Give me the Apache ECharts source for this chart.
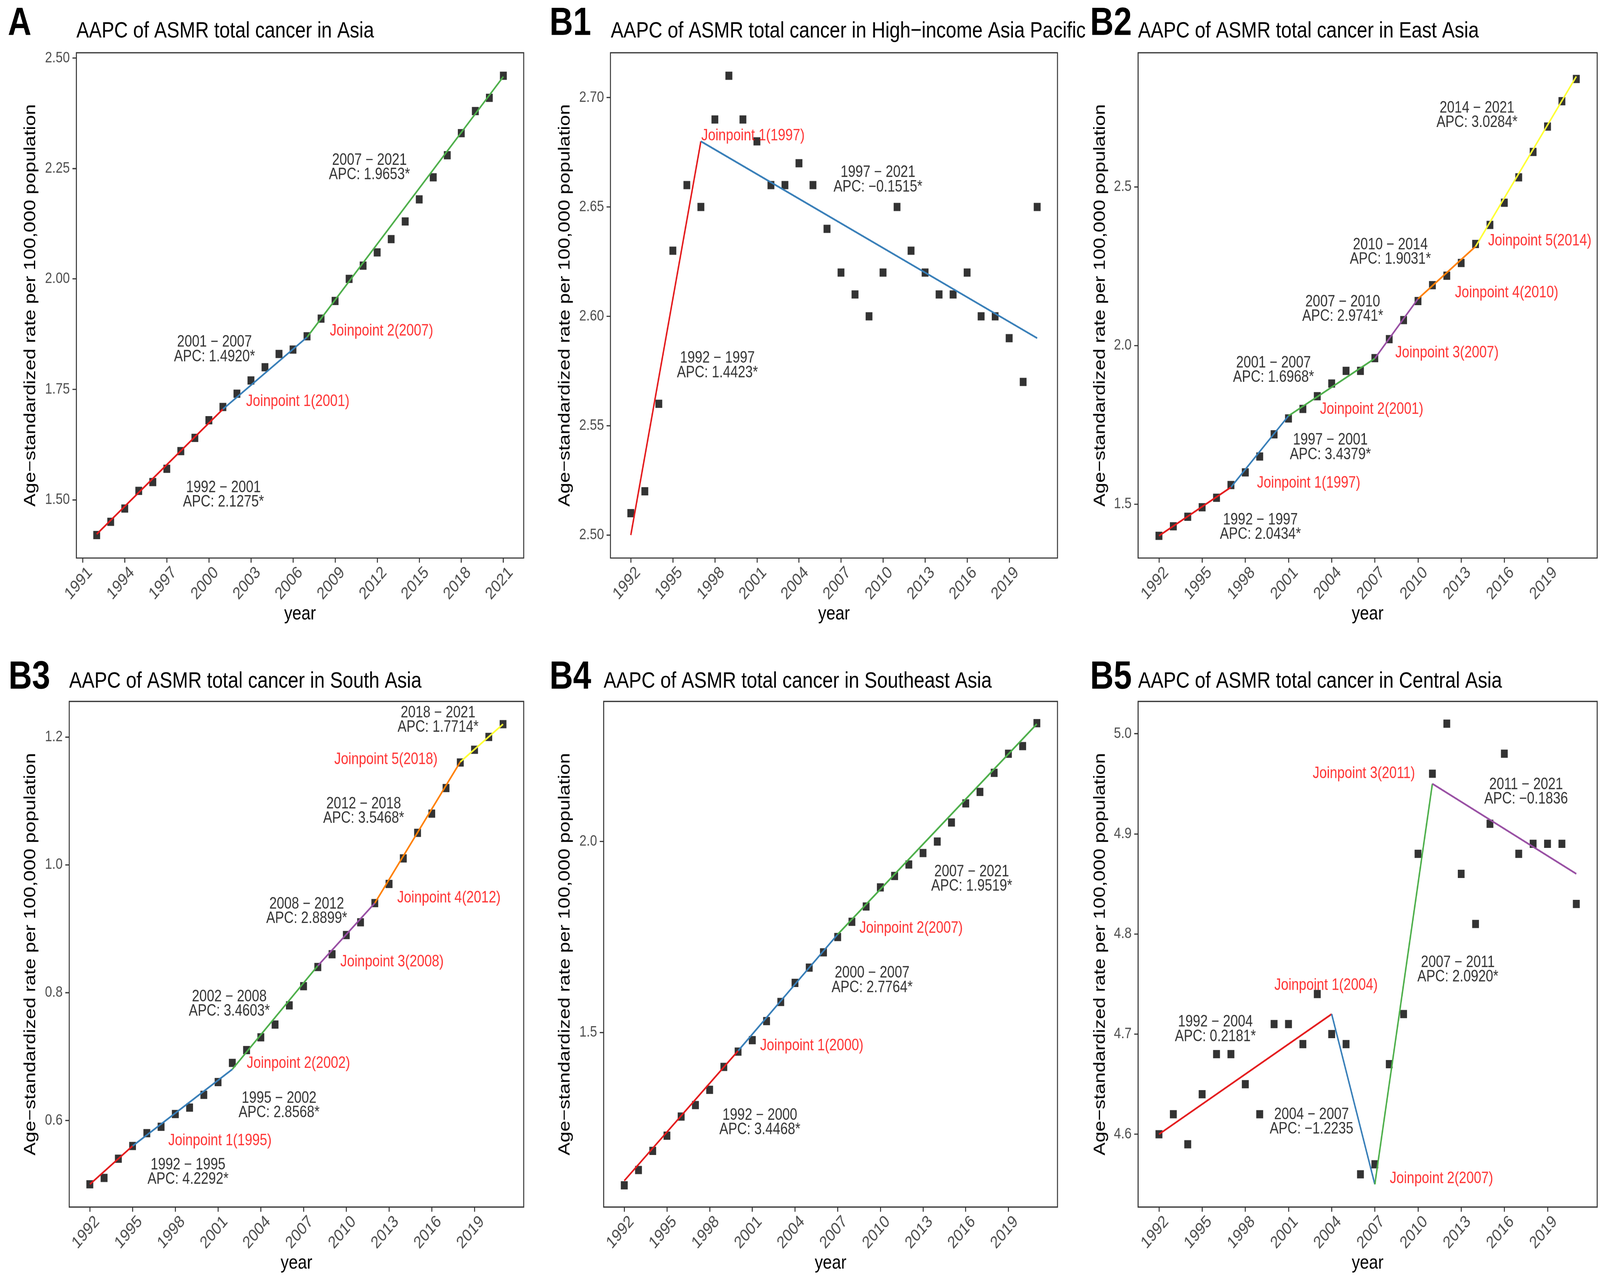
<!DOCTYPE html>
<html>
<head>
<meta charset="utf-8">
<script src="https://cdn.jsdelivr.net/npm/echarts@6/dist/echarts.min.js"></script>
<style>
html,body{margin:0;padding:0;background:#ffffff;overflow:hidden;}
#chart{position:absolute;left:0;top:0;width:4904px;height:3281px;transform-origin:0 0;}
</style>
</head>
<body>
<div id="chart"></div>
<script>
// ---------------- DATA ----------------
const years = [1992,1993,1994,1995,1996,1997,1998,1999,2000,2001,2002,2003,2004,2005,2006,2007,2008,2009,2010,2011,2012,2013,2014,2015,2016,2017,2018,2019,2020,2021];

// A: Asia
const asiaRates = [1.42,1.45,1.48,1.52,1.54,1.57,1.61,1.64,1.68,1.71,1.74,1.77,1.80,1.83,1.84,1.87,1.91,1.95,2.00,2.03,2.06,2.09,2.13,2.18,2.23,2.28,2.33,2.38,2.41,2.46];
const asiaJoinYears = [1992,2001,2007,2021];
const asiaFitted = [1.422,1.705,1.868,2.458];

// B1: High-income Asia Pacific
const hiapRates = [2.51,2.52,2.56,2.63,2.66,2.65,2.69,2.71,2.69,2.68,2.66,2.66,2.67,2.66,2.64,2.62,2.61,2.60,2.62,2.65,2.63,2.62,2.61,2.61,2.62,2.60,2.60,2.59,2.57,2.65];
const hiapJoinYears = [1992,1997,2021];
const hiapFitted = [2.500,2.680,2.590];

// B2: East Asia
const eastRates = [1.40,1.43,1.46,1.49,1.52,1.56,1.60,1.65,1.72,1.77,1.80,1.84,1.88,1.92,1.92,1.96,2.02,2.08,2.14,2.19,2.22,2.26,2.32,2.38,2.45,2.53,2.61,2.69,2.77,2.84];
const eastJoinYears = [1992,1997,2001,2007,2010,2014,2021];
const eastFitted = [1.400,1.553,1.778,1.959,2.147,2.312,2.848];

// B3: South Asia
const southRates = [0.50,0.51,0.54,0.56,0.58,0.59,0.61,0.62,0.64,0.66,0.69,0.71,0.73,0.75,0.78,0.81,0.84,0.86,0.89,0.91,0.94,0.97,1.01,1.05,1.08,1.12,1.16,1.18,1.20,1.22];
const southJoinYears = [1992,1995,2002,2008,2012,2018,2021];
const southFitted = [0.500,0.560,0.680,0.842,0.940,1.161,1.220];

// B4: Southeast Asia
const seRates = [1.10,1.14,1.19,1.23,1.28,1.31,1.35,1.41,1.45,1.48,1.53,1.58,1.63,1.67,1.71,1.75,1.79,1.83,1.88,1.91,1.94,1.97,2.00,2.05,2.10,2.13,2.18,2.23,2.25,2.31];
const seJoinYears = [1992,2000,2007,2021];
const seFitted = [1.112,1.452,1.757,2.308];

// B5: Central Asia
const centralRates = [4.60,4.62,4.59,4.64,4.68,4.68,4.65,4.62,4.71,4.71,4.69,4.74,4.70,4.69,4.56,4.57,4.67,4.72,4.88,4.96,5.01,4.86,4.81,4.91,4.98,4.88,4.89,4.89,4.89,4.83];
const centralJoinYears = [1992,2004,2007,2011,2021];
const centralFitted = [4.600,4.720,4.550,4.950,4.860];

// tick values
const xTicksA = [1991,1994,1997,2000,2003,2006,2009,2012,2015,2018,2021];
const xTicksB = [1992,1995,1998,2001,2004,2007,2010,2013,2016,2019];
const yTicksA = [1.50,1.75,2.00,2.25,2.50];
const yTicksB1 = [2.50,2.55,2.60,2.65,2.70];
const yTicksB2 = [1.5,2.0,2.5];
const yTicksB3 = [0.6,0.8,1.0,1.2];
const yTicksB4 = [1.5,2.0];
const yTicksB5 = [4.6,4.7,4.8,4.9,5.0];

// annotation texts (text, anchor year, anchor value, colour key)
const annotA = [
  ["2007 − 2021\nAPC: 1.9653*", 2011.45, 2.252, "k"],
  ["2001 − 2007\nAPC: 1.4920*", 2000.40, 1.840, "k"],
  ["1992 − 2001\nAPC: 2.1275*", 2001.04, 1.511, "k"],
  ["Joinpoint 1(2001)", 2006.34, 1.722, "r"],
  ["Joinpoint 2(2007)", 2012.31, 1.882, "r"]
];
const annotB1 = [
  ["Joinpoint 1(1997)", 2000.72, 2.6825, "r"],
  ["1997 − 2021\nAPC: −0.1515*", 2009.64, 2.6624, "k"],
  ["1992 − 1997\nAPC: 1.4423*", 1998.18, 2.5775, "k"]
];
const annotB2 = [
  ["2014 − 2021\nAPC: 3.0284*", 2014.10, 2.725, "k"],
  ["Joinpoint 5(2014)", 2018.46, 2.329, "r"],
  ["2010 − 2014\nAPC: 1.9031*", 2008.08, 2.294, "k"],
  ["Joinpoint 4(2010)", 2016.16, 2.166, "r"],
  ["2007 − 2010\nAPC: 2.9741*", 2004.77, 2.114, "k"],
  ["Joinpoint 3(2007)", 2012.01, 1.976, "r"],
  ["2001 − 2007\nAPC: 1.6968*", 1999.96, 1.922, "k"],
  ["Joinpoint 2(2001)", 2006.78, 1.798, "r"],
  ["1997 − 2001\nAPC: 3.4379*", 2003.91, 1.6785, "k"],
  ["Joinpoint 1(1997)", 2002.40, 1.566, "r"],
  ["1992 − 1997\nAPC: 2.0434*", 1999.05, 1.427, "k"]
];
const annotB3 = [
  ["2018 − 2021\nAPC: 1.7714*", 2016.44, 1.2263, "k"],
  ["Joinpoint 5(2018)", 2012.78, 1.1646, "r"],
  ["2012 − 2018\nAPC: 3.5468*", 2011.22, 1.0837, "k"],
  ["Joinpoint 4(2012)", 2017.20, 0.9478, "r"],
  ["2008 − 2012\nAPC: 2.8899*", 2007.22, 0.9271, "k"],
  ["Joinpoint 3(2008)", 2013.21, 0.8481, "r"],
  ["2002 − 2008\nAPC: 3.4603*", 2001.79, 0.7819, "k"],
  ["Joinpoint 2(2002)", 2006.64, 0.6889, "r"],
  ["1995 − 2002\nAPC: 2.8568*", 2005.28, 0.6233, "k"],
  ["Joinpoint 1(1995)", 2001.13, 0.5680, "r"],
  ["1992 − 1995\nAPC: 4.2292*", 1998.89, 0.5191, "k"]
];
const annotB4 = [
  ["2007 − 2021\nAPC: 1.9519*", 2016.42, 1.902, "k"],
  ["Joinpoint 2(2007)", 2012.16, 1.773, "r"],
  ["2000 − 2007\nAPC: 2.7764*", 2009.42, 1.6365, "k"],
  ["Joinpoint 1(2000)", 2005.18, 1.4647, "r"],
  ["1992 − 2000\nAPC: 3.4468*", 2001.53, 1.264, "k"]
];
const annotB5 = [
  ["Joinpoint 3(2011)", 2006.24, 4.960, "r"],
  ["2011 − 2021\nAPC: −0.1836", 2017.51, 4.9418, "k"],
  ["2007 − 2011\nAPC: 2.0920*", 2012.77, 4.7643, "k"],
  ["Joinpoint 1(2004)", 2003.61, 4.7486, "r"],
  ["1992 − 2004\nAPC: 0.2181*", 1995.92, 4.7047, "k"],
  ["2004 − 2007\nAPC: −1.2235", 2002.60, 4.6124, "k"],
  ["Joinpoint 2(2007)", 2011.63, 4.5555, "r"]
];

// ---------------- LAYOUT / STYLE ----------------
const W = 4904, H = 3281;
const FONT = "'Liberation Sans', Arial, Helvetica, sans-serif";
const segColors = ["#E41A1C","#377EB8","#4DAF4A","#984EA3","#FF7F00","#FFFF33"];
const txtColor = {k:"#000000", r:"#FF0000"};

const panels = [
  {tag:"A",  title:"AAPC of ASMR total cancer in Asia", rates:asiaRates, jy:asiaJoinYears, jv:asiaFitted, annot:annotA,
   box:[234,135,1371,1293], xr:[1990.55,2022.45], xt:xTicksA, yr:[1.368,2.512], yt:yTicksA, dec:2, ygap:115,
   tagX:24, titleX:234, baseY:100, tagBaseY:97},
  {tag:"B1", title:"AAPC of ASMR total cancer in High−income Asia Pacific", rates:hiapRates, jy:hiapJoinYears, jv:hiapFitted, annot:annotB1,
   box:[1871,135,1370,1293], xr:[1990.55,2022.45], xt:xTicksB, yr:[2.4895,2.7205], yt:yTicksB1, dec:2, ygap:114,
   tagX:1684, titleX:1872, baseY:100, tagBaseY:97},
  {tag:"B2", title:"AAPC of ASMR total cancer in East Asia", rates:eastRates, jy:eastJoinYears, jv:eastFitted, annot:annotB2,
   box:[3488,135,1407,1293], xr:[1990.55,2022.45], xt:xTicksB, yr:[1.330,2.9227], yt:yTicksB2, dec:1, ygap:91,
   tagX:3341, titleX:3488, baseY:100, tagBaseY:97},
  {tag:"B3", title:"AAPC of ASMR total cancer in South Asia", rates:southRates, jy:southJoinYears, jv:southFitted, annot:annotB3,
   box:[212,1795,1393,1294], xr:[1990.55,2022.45], xt:xTicksB, yr:[0.4644,1.2556], yt:yTicksB3, dec:1, ygap:93,
   tagX:26, titleX:212, baseY:1764, tagBaseY:1770},
  {tag:"B4", title:"AAPC of ASMR total cancer in Southeast Asia", rates:seRates, jy:seJoinYears, jv:seFitted, annot:annotB4,
   box:[1850,1795,1391,1294], xr:[1990.55,2022.45], xt:xTicksB, yr:[1.043,2.367], yt:yTicksB4, dec:1, ygap:93,
   tagX:1684, titleX:1850, baseY:1764, tagBaseY:1770},
  {tag:"B5", title:"AAPC of ASMR total cancer in Central Asia", rates:centralRates, jy:centralJoinYears, jv:centralFitted, annot:annotB5,
   box:[3488,1795,1407,1294], xr:[1990.55,2022.45], xt:xTicksB, yr:[4.5273,5.0322], yt:yTicksB5, dec:1, ygap:91,
   tagX:3341, titleX:3488, baseY:1764, tagBaseY:1770}
];

const grids = [], xAxes = [], yAxes = [], series = [], graphics = [];
const TITLE_F = 58, TAG_F = 100, AXT_F = 50, XTICK_F = 44, YTICK_F = 39, ANN_F = 41;

panels.forEach((p, i) => {
  grids.push({left:p.box[0], top:p.box[1], width:p.box[2], height:p.box[3],
    show:true, borderColor:"#333333", borderWidth:3, backgroundColor:"#ffffff", containLabel:false});
  xAxes.push({gridIndex:i, type:"value", min:p.xr[0], max:p.xr[1],
    splitLine:{show:false}, axisLine:{show:false},
    axisTick:{show:true, inside:false, length:12, lineStyle:{color:"#333333", width:3}, customValues:p.xt},
    axisLabel:{show:true, customValues:p.xt, rotate:45, margin:8, verticalAlign:"top", padding:[10,0,0,0],
      fontSize:XTICK_F, color:"#4D4D4D", fontFamily:FONT,
      formatter:(v)=>String(Math.round(v))},
    name:"year", nameLocation:"middle", nameGap:117,
    nameTextStyle:{fontSize:AXT_F, color:"#000000", fontFamily:FONT}});
  yAxes.push({gridIndex:i, type:"value", min:p.yr[0], max:p.yr[1],
    splitLine:{show:false}, axisLine:{show:false},
    axisTick:{show:true, inside:false, length:12, lineStyle:{color:"#333333", width:3}, customValues:p.yt},
    axisLabel:{show:true, customValues:p.yt, margin:20, fontSize:YTICK_F, color:"#4D4D4D", fontFamily:FONT,
      formatter:(v)=>Number(v).toFixed(p.dec)},
    name:"Age−standardized rate per 100,000 population", nameLocation:"middle", nameGap:p.ygap, nameRotate:90,
    nameTextStyle:{fontSize:AXT_F, color:"#000000", fontFamily:FONT}});

  // observed points
  series.push({type:"scatter", xAxisIndex:i, yAxisIndex:i, symbol:"rect", symbolSize:21,
    itemStyle:{color:"#000000"}, z:2, silent:true,
    data:years.map((y,k)=>[y,p.rates[k]])});
  // fitted joinpoint segments
  for (let s = 0; s < p.jy.length - 1; s++) {
    series.push({type:"line", xAxisIndex:i, yAxisIndex:i, showSymbol:false, z:3, silent:true,
      lineStyle:{color:segColors[s], width:4.5}, itemStyle:{color:segColors[s]},
      data:[[p.jy[s],p.jv[s]],[p.jy[s+1],p.jv[s+1]]]});
  }
  // text annotations
  series.push({type:"scatter", xAxisIndex:i, yAxisIndex:i, symbolSize:1, z:4, silent:true,
    itemStyle:{color:"rgba(0,0,0,0)"},
    data:p.annot.map(a=>({value:[a[1],a[2]], name:a[0],
      label:{show:true, position:"inside", formatter:a[0], align:"center", verticalAlign:"middle",
        fontSize:ANN_F, lineHeight:37, color:txtColor[a[3]], fontFamily:FONT}}))});

  graphics.push({type:"text", x:p.tagX, y:p.tagBaseY - 0.35*TAG_F, silent:true,
    style:{text:p.tag, font:"bold "+TAG_F+"px "+FONT, fill:"#000000", verticalAlign:"middle", align:"left"}});
  graphics.push({type:"text", x:p.titleX, y:p.baseY - 0.35*TITLE_F, silent:true,
    style:{text:p.title, font:TITLE_F+"px "+FONT, fill:"#000000", verticalAlign:"middle", align:"left"}});
});

// the chart is laid out at 4904x3281 and scaled to fill the actual viewport
const el = document.getElementById("chart");
const sx = window.innerWidth / W, sy = window.innerHeight / H;
el.style.transform = "scale(" + sx + "," + sy + ")";
const chart = echarts.init(el, null, {renderer:"canvas", width:W, height:H,
  devicePixelRatio: Math.max(1, 1 / Math.min(sx, sy))});
chart.setOption({
  animation:false,
  backgroundColor:"#ffffff",
  grid:grids, xAxis:xAxes, yAxis:yAxes, series:series, graphic:graphics
});
</script>
</body>
</html>
